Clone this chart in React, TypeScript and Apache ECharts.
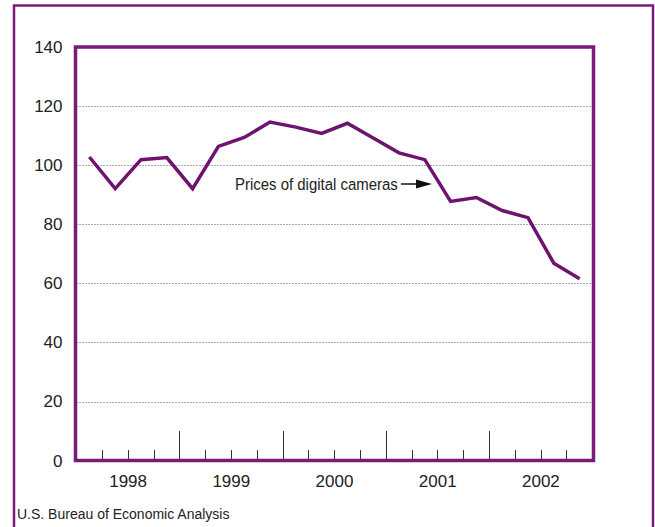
import React, { useEffect, useRef } from "react";
import * as echarts from "echarts";

const quarters: string[] = [
  "1998 Q1", "1998 Q2", "1998 Q3", "1998 Q4",
  "1999 Q1", "1999 Q2", "1999 Q3", "1999 Q4",
  "2000 Q1", "2000 Q2", "2000 Q3", "2000 Q4",
  "2001 Q1", "2001 Q2", "2001 Q3", "2001 Q4",
  "2002 Q1", "2002 Q2", "2002 Q3", "2002 Q4",
];
const years: string[] = ["1998", "1999", "2000", "2001", "2002"];
const cameraPrices: number[] = [
  102.8, 92.1, 101.9, 102.6, 92.1, 106.4, 109.4, 114.6, 112.9, 110.8,
  114.2, 109.2, 104.2, 101.9, 87.8, 89.1, 84.7, 82.3, 66.9, 61.6,
];
const yTicks = { min: 0, max: 140, interval: 20 };

const PURPLE = "#7A1A7D";
const LINE = "#6E1470";
const TEXT = "#222222";
const FONT = "'Liberation Sans', Arial, Helvetica, sans-serif";

export default function App() {
  const ref = useRef<HTMLDivElement>(null);
  useEffect(() => {
    document.body.style.margin = "0";
    if (!ref.current) return;
    const chart = echarts.init(ref.current, undefined, { renderer: "svg" });
    chart.setOption({
      animation: false,
      backgroundColor: "#ffffff",
      textStyle: { fontFamily: FONT },
      grid: { left: 76.5, right: 62.5, top: 47, bottom: 66, containLabel: false },
      xAxis: [
        {
          type: "category",
          data: quarters,
          position: "bottom",
          boundaryGap: true,
          axisLine: { show: false },
          axisTick: { show: true, inside: true, length: 11, interval: 0, lineStyle: { color: "#333", width: 1 } },
          axisLabel: { show: false },
          splitLine: { show: false },
        },
        {
          type: "category",
          data: years,
          position: "bottom",
          boundaryGap: true,
          axisLine: { show: false },
          axisTick: { show: true, inside: true, length: 30, interval: 0, lineStyle: { color: "#333", width: 1 } },
          axisLabel: { show: true, color: TEXT, fontSize: 17, margin: 12, fontFamily: FONT },
          splitLine: { show: false },
        },
      ],
      yAxis: {
        type: "value",
        min: yTicks.min,
        max: yTicks.max,
        interval: yTicks.interval,
        axisLine: { show: false },
        axisTick: { show: false },
        axisLabel: { color: TEXT, fontSize: 17, margin: 14, fontFamily: FONT },
        splitLine: {
          show: true,
          showMinLine: false,
          showMaxLine: false,
          lineStyle: { color: "#555", type: [1, 2], width: 1 },
        },
      },
      series: [
        {
          type: "line",
          name: "Prices of digital cameras",
          xAxisIndex: 0,
          data: cameraPrices,
          showSymbol: false,
          symbol: "none",
          lineStyle: { color: LINE, width: 3.5, join: "miter" },
          z: 5,
        },
      ],
      graphic: [
        {
          type: "rect",
          z: 100,
          shape: { x: 75.5, y: 47, width: 518, height: 413.5 },
          style: { fill: "none", stroke: PURPLE, lineWidth: 3.5 },
        },
        {
          type: "rect",
          z: 100,
          shape: { x: 14, y: 5.5, width: 639, height: 560 },
          style: { fill: "none", stroke: PURPLE, lineWidth: 2.5 },
        },
        {
          type: "text",
          z: 100,
          x: 235,
          y: 184,
          scaleX: 0.88,
          style: {
            text: "Prices of digital cameras",
            fill: TEXT,
            font: `17px ${FONT}`,
            textVerticalAlign: "middle",
            verticalAlign: "middle",
          },
        },
        {
          type: "line",
          z: 100,
          shape: { x1: 401, y1: 184, x2: 420, y2: 184 },
          style: { stroke: "#111", lineWidth: 1.5 },
        },
        {
          type: "polygon",
          z: 100,
          shape: { points: [[416, 179.5], [432, 184], [416, 188.5]] },
          style: { fill: "#111" },
        },
        {
          type: "text",
          z: 100,
          x: 17,
          y: 514,
          style: {
            text: "U.S. Bureau of Economic Analysis",
            fill: TEXT,
            font: `14px ${FONT}`,
            textVerticalAlign: "middle",
            verticalAlign: "middle",
          },
        },
      ],
    });
    return () => chart.dispose();
  }, []);
  return <div ref={ref} style={{ width: 655, height: 527 }} />;
}
